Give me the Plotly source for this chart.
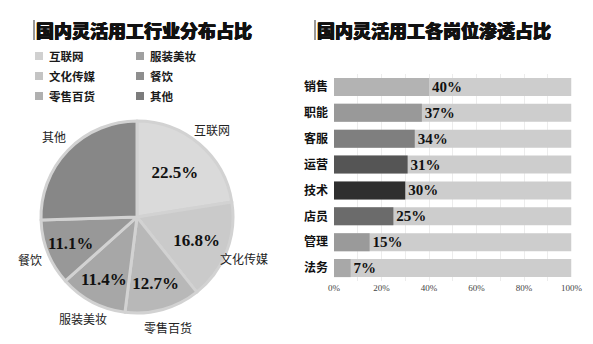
import math
import plotly.graph_objects as go

# ---------------- data ----------------
pie_labels = ["互联网", "文化传媒", "零售百货", "服装美妆", "餐饮", "其他"]
pie_values = [22.5, 16.8, 12.7, 11.4, 11.1, 25.5]
pie_show_pct = [True, True, True, True, True, False]
pie_colors = ["#dadada", "#cacaca", "#b8b8b8", "#a7a7a7", "#989898", "#878787"]
legend_colors = ["#d0d0d0", "#c4c4c4", "#b0b0b0", "#a0a0a0", "#8e8e8e", "#7c7c7c"]

bar_cats = ["销售", "职能", "客服", "运营", "技术", "店员", "管理", "法务"]
bar_vals = [40, 37, 34, 31, 30, 25, 15, 7]
bar_colors = ["#b3b3b3", "#999999", "#7f7f7f", "#555555", "#2f2f2f", "#6b6b6b", "#9a9a9a", "#a8a8a8"]
bar_total = [100] * len(bar_cats)
x_ticks = [0, 20, 40, 60, 80, 100]
x_ticktext = ["0%", "20%", "40%", "60%", "80%", "100%"]

title_left = "国内灵活用工行业分布占比"
title_right = "国内灵活用工各岗位渗透占比"

W, H = 593, 344
CJK = "Noto Sans CJK SC"
SERIF = "Liberation Serif"

fig = go.Figure()

# pie geometry (pixels)
PCX, PCY, PR = 137, 217, 96
pie_dom = dict(x=[(PCX - PR) / W, (PCX + PR) / W], y=[1 - (PCY + PR) / H, 1 - (PCY - PR) / H])

fig.add_trace(go.Pie(
    labels=pie_labels, values=pie_values, sort=False, direction="clockwise",
    rotation=0, domain=pie_dom,
    marker=dict(colors=pie_colors, line=dict(color="#d2d2d2", width=3)),
    texttemplate=["%{value}%" if s else "" for s in pie_show_pct],
    textposition="inside",
    insidetextorientation="horizontal",
    textfont=dict(family=SERIF, size=17, color="#111111", weight="bold"),
    showlegend=False, hoverinfo="label+value",
))

# bar chart: background 100% bars, then value bars
fig.add_trace(go.Bar(
    y=bar_cats, x=bar_total, orientation="h",
    marker=dict(color="#cdcdcd", line=dict(width=0)),
    xaxis="x", yaxis="y", showlegend=False, hoverinfo="skip",
))
fig.add_trace(go.Bar(
    y=bar_cats, x=bar_vals, orientation="h",
    marker=dict(color=bar_colors, line=dict(width=0)),
    text=[f"{v}%" for v in bar_vals], textposition="outside",
    textfont=dict(family=SERIF, size=15, color="#111111", weight="bold"),
    cliponaxis=False,
    xaxis="x", yaxis="y", showlegend=False,
))

shapes = []
annotations = []

# outside category labels for the pie, at each slice's mid-angle
total = sum(pie_values)
cum = 0.0
for lab, v in zip(pie_labels, pie_values):
    mid = (cum + v / 2) / total * 2 * math.pi
    cum += v
    px = PCX + 1.2 * PR * math.sin(mid)
    py = PCY - 1.2 * PR * math.cos(mid)
    annotations.append(dict(text=lab, xref="paper", yref="paper",
                            x=px / W, y=1 - py / H, xanchor="center", yanchor="middle",
                            showarrow=False,
                            font=dict(family=CJK, size=12, color="#222222")))

# custom legend (column-major, 3 rows x 2 cols)
for i, (lab, col) in enumerate(zip(pie_labels, legend_colors)):
    c, r = divmod(i, 3)
    x0 = 35 + c * 101
    yc = 56 + r * 20
    shapes.append(dict(type="rect", xref="paper", yref="paper",
                       x0=x0 / W, x1=(x0 + 8) / W,
                       y0=1 - (yc + 4) / H, y1=1 - (yc - 4) / H,
                       fillcolor=col, line=dict(width=0)))
    annotations.append(dict(text=lab, xref="paper", yref="paper",
                            x=(x0 + 12) / W, y=1 - yc / H,
                            xanchor="left", yanchor="middle", showarrow=False,
                            font=dict(family=CJK, size=11.5, color="#1a1a1a", weight="bold")))

# title accent bars
for xb in (33, 314):
    shapes.append(dict(type="rect", xref="paper", yref="paper",
                       x0=xb / W, x1=(xb + 2) / W,
                       y0=1 - 40 / H, y1=1 - 20 / H,
                       fillcolor="#9a9a9a", line=dict(width=0)))

title_font = dict(family=CJK, size=18, color="#111111", weight=900,
                  shadow="0.5px 0 0 #111111, -0.5px 0 0 #111111, 0 0.4px 0 #111111")
annotations.append(dict(text=title_left, xref="paper", yref="paper",
                        x=34 / W, y=1 - 30 / H, xanchor="left", yanchor="middle",
                        showarrow=False, font=title_font))
annotations.append(dict(text=title_right, xref="paper", yref="paper",
                        x=315 / W, y=1 - 30 / H, xanchor="left", yanchor="middle",
                        showarrow=False, font=title_font))

fig.update_layout(
    width=W, height=H,
    margin=dict(l=0, r=0, t=0, b=0, autoexpand=False),
    paper_bgcolor="white", plot_bgcolor="white",
    barmode="overlay", bargap=0.3,
    shapes=shapes, annotations=annotations,
    xaxis=dict(domain=[334 / W, 571.5 / W], range=[0, 100], automargin=False,
               tickvals=x_ticks, ticktext=x_ticktext,
               tickfont=dict(family=SERIF, size=9, color="#444444"),
               showgrid=True, gridcolor="#ececec", gridwidth=1,
               minor=dict(dtick=10, showgrid=True, gridcolor="#ececec"),
               zeroline=False, showline=False, ticks="", ticklabelstandoff=0,
               fixedrange=True),
    yaxis=dict(domain=[1 - 281 / H, 1 - 74 / H], automargin=False,
               categoryorder="array", categoryarray=bar_cats[::-1],
               range=[-0.5, len(bar_cats) - 0.5],
               tickfont=dict(family=CJK, size=12, color="#111111", weight="bold"),
               showgrid=False, zeroline=False, showline=False, ticks="",
               ticklabelstandoff=5, fixedrange=True),
)

fig.write_html("out.html")
